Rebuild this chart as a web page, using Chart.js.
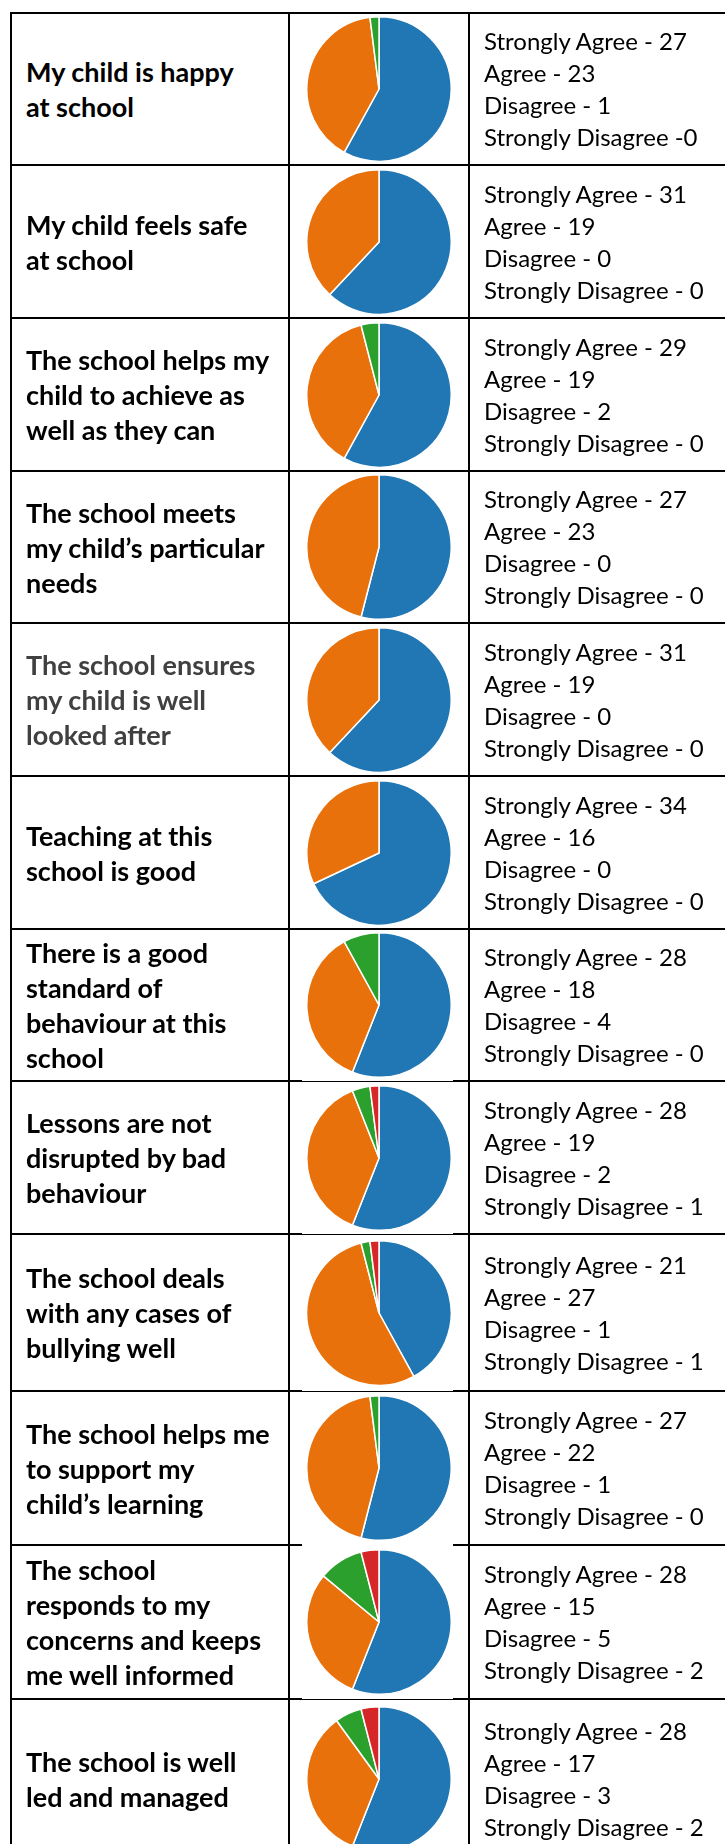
<!DOCTYPE html>
<html>
<head>
<meta charset="utf-8">
<script src="https://cdn.jsdelivr.net/npm/chart.js@4.4.1/dist/chart.umd.min.js"></script>
<style>
  html, body { margin: 0; padding: 0; background: #fff; }
  #sheet { position: relative; width: 725px; height: 1844px; overflow: hidden; }
  table {
    position: absolute; left: 10px; top: 12px;
    border-collapse: collapse; table-layout: fixed; width: 800px;
  }
  td { border: 2px solid #000; padding: 0; vertical-align: middle; }
  td.q {
    width: 262px; padding-left: 14px;
    font-family: Lato, sans-serif; font-weight: bold; font-size: 27px; line-height: 35px; color: #000;
  }
  td.q.grey { color: #404040; }
  td.pie { width: 178px; text-align: center; }
  td.pie canvas { display: block; margin: 0 auto; }
  td.ans {
    padding-left: 14px;
    font-family: Lato, sans-serif; font-size: 24px; line-height: 32px; color: #000;
  }
  .cover { position: absolute; background: #fff; }
</style>
</head>
<body>
<div id="sheet">
  <table id="survey"></table>
</div>
<script>
  const questions = [
    'My child is happy<br>at school',
    'My child feels safe<br>at school',
    'The school helps my<br>child to achieve as<br>well as they can',
    'The school meets<br>my child\u2019s particular<br>needs',
    'The school ensures<br>my child is well<br>looked after',
    'Teaching at this<br>school is good',
    'There is a good<br>standard of<br>behaviour at this<br>school',
    'Lessons are not<br>disrupted by bad<br>behaviour',
    'The school deals<br>with any cases of<br>bullying well',
    'The school helps me<br>to support my<br>child\u2019s learning',
    'The school<br>responds to my<br>concerns and keeps<br>me well informed',
    'The school is well<br>led and managed'
  ];
  const categories = ['Strongly Agree', 'Agree', 'Disagree', 'Strongly Disagree'];

  // numbers as written in the right-hand column
  const writtenStronglyAgree    = [27, 31, 29, 27, 31, 34, 28, 28, 21, 27, 28, 28];
  const writtenAgree            = [23, 19, 19, 23, 19, 16, 18, 19, 27, 22, 15, 17];
  const writtenDisagree         = [1, 0, 2, 0, 0, 0, 4, 2, 1, 1, 5, 3];
  const writtenStronglyDisagree = [0, 0, 0, 0, 0, 0, 0, 1, 1, 0, 2, 2];

  // slice sizes as drawn in the pies (first pie does not match its text)
  const pieStronglyAgree    = [29, 31, 29, 27, 31, 34, 28, 28, 21, 27, 28, 28];
  const pieAgree            = [20, 19, 19, 23, 19, 16, 18, 19, 27, 22, 15, 17];
  const pieDisagree         = [1, 0, 2, 0, 0, 0, 4, 2, 1, 1, 5, 3];
  const pieStronglyDisagree = [0, 0, 0, 0, 0, 0, 0, 1, 1, 0, 2, 2];

  const sliceColors = ['#2077b4', '#e9710b', '#2ca02c', '#d62728'];
  const rowHeights = [152, 153, 153, 152, 153, 153, 152, 153, 157, 154, 154, 160];

  const table = document.getElementById('survey');
  questions.forEach(function(q, i) {
    const tr = document.createElement('tr');
    tr.style.height = rowHeights[i] + 'px';

    const tdQ = document.createElement('td');
    tdQ.className = i === 4 ? 'q grey' : 'q';
    tdQ.innerHTML = q;
    tr.appendChild(tdQ);

    const tdPie = document.createElement('td');
    tdPie.className = 'pie';
    const canvas = document.createElement('canvas');
    canvas.width = 146;
    canvas.height = 146;
    canvas.id = 'pie' + i;
    tdPie.appendChild(canvas);
    tr.appendChild(tdPie);

    const written = [writtenStronglyAgree[i], writtenAgree[i], writtenDisagree[i], writtenStronglyDisagree[i]];
    const tdA = document.createElement('td');
    tdA.className = 'ans';
    tdA.innerHTML = categories.map(function(c, k) {
      // first row has no space before the last number
      const sep = (i === 0 && k === 3) ? ' -' : ' - ';
      return c + sep + written[k];
    }).join('<br>');
    tr.appendChild(tdA);

    table.appendChild(tr);
  });

  // the pasted pie pictures in the lower rows sit over the row lines
  const sheet = document.getElementById('sheet');
  const sheetTop = sheet.getBoundingClientRect().top;
  [[7, 1], [8, 1], [9, 1], [10, 2], [11, 1]].forEach(function(c) {
    const cell = table.rows[c[0]].cells[1].getBoundingClientRect();
    const div = document.createElement('div');
    div.className = 'cover';
    div.style.left = '302px';
    div.style.width = '151px';
    div.style.top = (cell.top - sheetTop - 1) + 'px';
    div.style.height = c[1] + 'px';
    sheet.appendChild(div);
  });

  questions.forEach(function(q, i) {
    new Chart(document.getElementById('pie' + i), {
      type: 'pie',
      data: {
        labels: categories,
        datasets: [{
          data: [pieStronglyAgree[i], pieAgree[i], pieDisagree[i], pieStronglyDisagree[i]],
          backgroundColor: sliceColors,
          borderColor: '#ffffff',
          borderWidth: 1.5
        }]
      },
      options: {
        responsive: false,
        animation: false,
        layout: { padding: 0 },
        plugins: {
          legend: { display: false },
          tooltip: { enabled: false }
        }
      }
    });
  });
</script>
</body>
</html>
